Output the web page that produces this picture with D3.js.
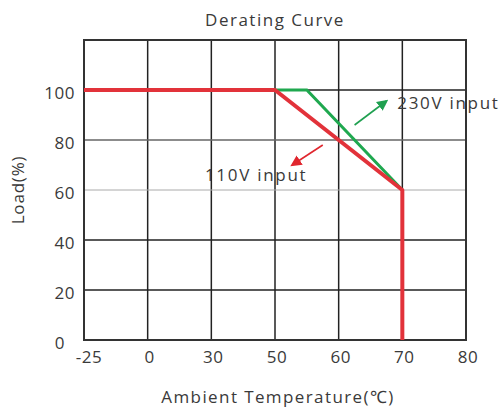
<!DOCTYPE html>
<html><head><meta charset="utf-8">
<script src="https://cdn.jsdelivr.net/npm/d3@7"></script>
<style>body{margin:0;background:#fff}svg{display:block}text{font-family:"Open Sans","Noto Sans",sans-serif;fill:#3a3a3a}</style>
</head><body><svg id="c" width="500" height="409"></svg>
<script>
const xTicks = [-25, 0, 30, 50, 60, 70, 80];
const yTicks = [0, 20, 40, 60, 80, 100];
const yMax = 120;
const red110 = [[-25,100],[50,100],[70,60],[70,0]];
const green230 = [[50,100],[55,100],[70,60]];
const title = "Derating Curve";
const xTitle = "Ambient Temperature(℃)";
const yTitle = "Load(%)";
const labels = [{text:"230V input", from:[62.5,86], to:[67.5,95.6], tx:[69.2,92.4]}, {text:"110V input", from:[57.5,78], to:[52.7,70], tx:[27,63.6]}];

const svg = d3.select("#c");
const L=84, R=466, T=40, B=340;
const x = d3.scaleLinear().domain(xTicks).range(xTicks.map((d,i)=>L+i*(R-L)/(xTicks.length-1)));
const y = d3.scaleLinear().domain([0,yMax]).range([B,T]);

// grid
const g = svg.append("g");
g.selectAll(".vx").data(xTicks).join("line").attr("x1",d=>x(d)).attr("x2",d=>x(d)).attr("y1",T).attr("y2",B).attr("stroke","#222").attr("stroke-width",1.5);
const hGrid = yTicks.concat([yMax]);
g.selectAll(".hy").data(hGrid).join("line").attr("x1",L).attr("x2",R).attr("y1",d=>y(d)).attr("y2",d=>y(d))
  .attr("stroke",d=>d===60?"#aaa":(d===80?"#666":"#222")).attr("stroke-width",d=>d===60?1:1.5);
g.append("rect").attr("x",L).attr("y",T).attr("width",R-L).attr("height",B-T).attr("fill","none").attr("stroke","#333").attr("stroke-width",2);

// axes labels
svg.selectAll(".xl").data(xTicks).join("text").attr("x",d=>x(d)+(d<0?5:2)).attr("y",B+23).attr("text-anchor","middle").attr("font-size",17).attr("letter-spacing",0.5).text(d=>d);
svg.selectAll(".yl").data(yTicks).join("text").attr("x",d=>d===0?65:75).attr("y",d=>y(d)+9).attr("text-anchor","end").attr("font-size",17).attr("letter-spacing",0.5).text(d=>d);
svg.append("text").attr("x",275).attr("y",26).attr("text-anchor","middle").attr("font-size",17).attr("letter-spacing",1.5).text(title);
svg.append("text").attr("x",278).attr("y",403).attr("text-anchor","middle").attr("font-size",17).attr("letter-spacing",1.4).text(xTitle);
svg.append("text").attr("transform","translate(24,190) rotate(-90)").attr("text-anchor","middle").attr("font-size",17).attr("letter-spacing",0.8).text(yTitle);

// lines
const line = d3.line().x(d=>x(d[0])).y(d=>y(d[1]));
svg.append("path").datum(green230).attr("d",line).attr("fill","none").attr("stroke","#1fa84f").attr("stroke-width",3);
svg.append("path").datum(red110).attr("d",line).attr("fill","none").attr("stroke","#e2323a").attr("stroke-width",4).attr("stroke-linejoin","round");

// arrows
const defs = svg.append("defs");
[["ag","#1fa050"],["ar","#e0262e"]].forEach(([id,c])=>{
  defs.append("marker").attr("id",id).attr("viewBox","0 0 10 10").attr("refX",8).attr("refY",5).attr("markerWidth",7).attr("markerHeight",7).attr("orient","auto")
    .append("path").attr("d","M0,0L10,5L0,10z").attr("fill",c);
});
labels.forEach((l,i)=>{
  svg.append("line").attr("x1",x(l.from[0])).attr("y1",y(l.from[1])).attr("x2",x(l.to[0])).attr("y2",y(l.to[1]))
    .attr("stroke",i===0?"#1fa050":"#e0262e").attr("stroke-width",1.6).attr("marker-end",`url(#${i===0?"ag":"ar"})`);
  svg.append("text").attr("x",x(l.tx[0])).attr("y",y(l.tx[1])).attr("font-size",17).attr("letter-spacing",1.7).text(l.text);
});
</script></body></html>
